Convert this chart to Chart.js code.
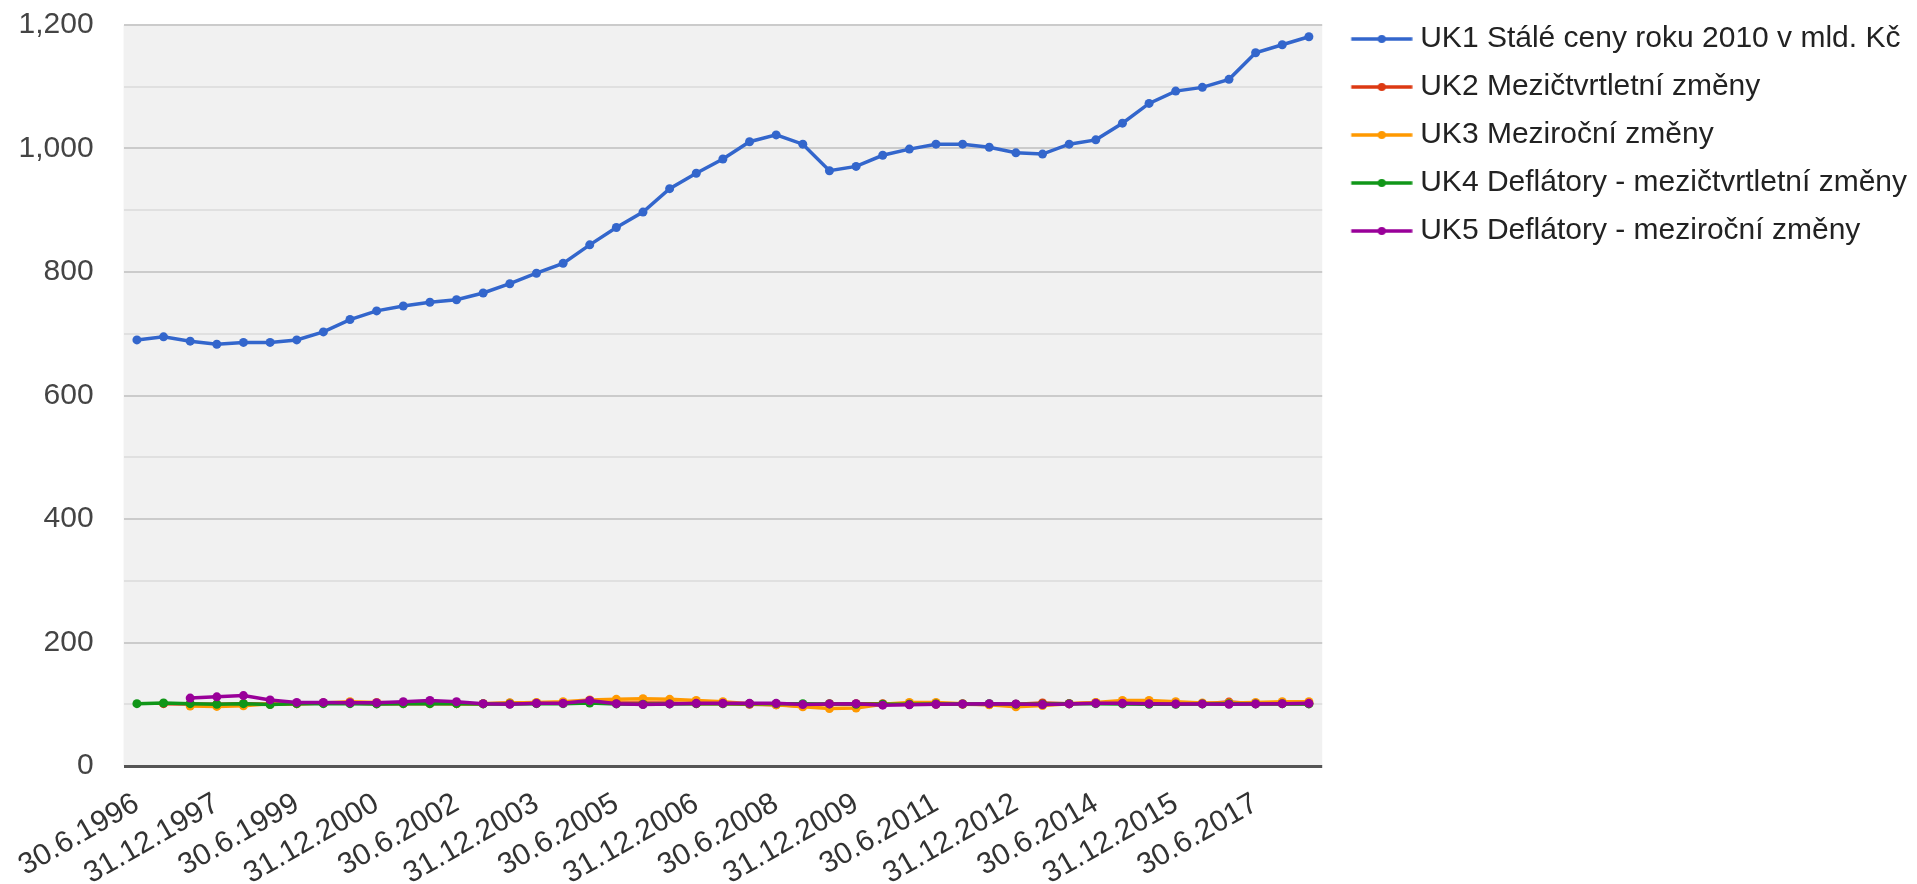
<!DOCTYPE html>
<html>
<head>
<meta charset="utf-8">
<title>UK1 - UK5</title>
<script src="https://cdn.jsdelivr.net/npm/chart.js@4.4.1/dist/chart.umd.min.js"></script>
<style>
  html, body { margin: 0; padding: 0; background: #fff; }
  #chart { display: block; }
</style>
</head>
<body>
<canvas id="chart" width="1917" height="884"></canvas>
<script>
// pololetní období
const periods = [
  '30.6.1996', '31.12.1996', '30.6.1997', '31.12.1997', '30.6.1998', '31.12.1998',
  '30.6.1999', '31.12.1999', '30.6.2000', '31.12.2000', '30.6.2001', '31.12.2001',
  '30.6.2002', '31.12.2002', '30.6.2003', '31.12.2003', '30.6.2004', '31.12.2004',
  '30.6.2005', '31.12.2005', '30.6.2006', '31.12.2006', '30.6.2007', '31.12.2007',
  '30.6.2008', '31.12.2008', '30.6.2009', '31.12.2009', '30.6.2010', '31.12.2010',
  '30.6.2011', '31.12.2011', '30.6.2012', '31.12.2012', '30.6.2013', '31.12.2013',
  '30.6.2014', '31.12.2014', '30.6.2015', '31.12.2015', '30.6.2016', '31.12.2016',
  '30.6.2017', '31.12.2017', '30.6.2018'
];

const uk1 = [690, 695, 688, 683, 686, 686, 690, 703, 723, 737, 745, 751, 755, 766, 781,
  798, 814, 844, 872, 897, 935, 960, 983, 1011, 1022, 1007, 964, 971, 989, 999,
  1007, 1007, 1002, 993, 991, 1007, 1014, 1041, 1073, 1093, 1099, 1112, 1155, 1168, 1181];
const uk2 = [null, 101, 100.5, 100, 101, 100, 101, 102, 102, 101, 101, 101, 101, 101, 102,
  102, 102, 103, 102, 102, 102, 101, 101, 100, 99, 97, 101, 101, 101, 100,
  100, 100, 99.5, 100, 102, 101, 102.5, 102.5, 102, 101, 101, 103.5, 101, 101, 101];
const uk3 = [null, null, 97, 96.5, 97.5, 101, 101, 102, 104, 103, 102, 102, 101, 101, 102,
  103, 104, 107, 108, 109, 108, 106, 104, 101, 99, 96, 93, 94, 100, 103,
  103, 101, 99, 96, 98, 101, 103, 106, 106, 104, 102, 102, 103, 104, 104];
const uk4 = [101, 102, 101, 100, 101, 99.5, 101, 101, 101, 100.5, 101, 101, 101, 100.5, 100.5,
  101, 101, 102, 100.5, 100, 100.5, 101, 101, 101, 101, 101, 100.5, 100, 100, 100,
  100.5, 100.5, 101, 100, 100, 101, 101, 100.5, 100, 100, 100.5, 101, 100.5, 101, 100.5];
const uk5 = [null, null, 110, 112, 114, 107, 103, 103, 102.5, 102.5, 104, 106, 104, 101, 100,
  101.5, 101.5, 106, 101, 99.5, 100.5, 101.5, 101.5, 101.5, 101.5, 99.5, 100.5, 101, 98.5, 99,
  100, 100.5, 101, 100.5, 99.5, 100.5, 101.5, 101.5, 101, 100.5, 100.5, 100, 100.5, 101, 101.5];

const seriesNames = [
  'UK1 Stálé ceny roku 2010 v mld. Kč',
  'UK2 Mezičtvrtletní změny',
  'UK3 Meziroční změny',
  'UK4 Deflátory - mezičtvrtletní změny',
  'UK5 Deflátory - meziroční změny'
];
const seriesData = [uk1, uk2, uk3, uk4, uk5];
const seriesColors = ['#3366cc', '#dc3912', '#ff9900', '#109618', '#990099'];

const FONT = 'Arial, "Liberation Sans", sans-serif';

// značka v legendě: čára s tečkou uprostřed
function legendMark(color) {
  const c = document.createElement('canvas');
  c.width = 80;
  c.height = 12;
  const g = c.getContext('2d');
  g.strokeStyle = color;
  g.lineWidth = 3.5;
  g.beginPath();
  g.moveTo(18.5, 6);
  g.lineTo(79.5, 6);
  g.stroke();
  g.fillStyle = color;
  g.beginPath();
  g.arc(49, 6, 4, 0, Math.PI * 2);
  g.fill();
  return c;
}
const marks = seriesColors.map(legendMark);

const plotBg = {
  id: 'plotBg',
  beforeDraw(chart) {
    const { ctx, chartArea: a } = chart;
    ctx.save();
    ctx.fillStyle = '#f1f1f1';
    ctx.fillRect(a.left, a.top, a.right - a.left, a.bottom - a.top);
    ctx.restore();
  }
};

new Chart(document.getElementById('chart'), {
  type: 'line',
  data: {
    labels: periods,
    datasets: seriesNames.map((name, i) => ({
      label: name,
      data: seriesData[i],
      borderColor: seriesColors[i],
      backgroundColor: seriesColors[i],
      borderWidth: 3.5,
      pointRadius: 4.5,
      pointHoverRadius: 4.5,
      pointBorderWidth: 0,
      tension: 0,
      order: 4 - i
    }))
  },
  options: {
    responsive: false,
    devicePixelRatio: 1,
    animation: false,
    events: [],
    layout: { padding: { top: 6, right: 0, bottom: 0, left: 0 } },
    font: { family: FONT },
    scales: {
      x: {
        offset: true,
        grid: { display: false, drawTicks: false },
        border: { display: false },
        ticks: {
          autoSkip: false,
          minRotation: 30,
          maxRotation: 30,
          padding: 20,
          color: '#333',
          font: { family: FONT, size: 30 },
          callback: (v, i) => (i % 3 === 0 ? periods[i] : '')
        },
        afterFit: s => { s.height = 118; }
      },
      y: {
        min: 0,
        max: 1200,
        ticks: {
          stepSize: 100,
          padding: 30,
          color: '#444',
          font: { family: FONT, size: 30 },
          callback: v => (v % 200 === 0 ? v.toLocaleString('en-US') : '')
        },
        grid: {
          drawTicks: false,
          color: c => (c.tick.value === 0 ? '#555' : c.tick.value % 200 === 0 ? '#cbcbcb' : '#e0e0e0'),
          lineWidth: c => (c.tick.value === 0 ? 3 : 2)
        },
        border: { display: false },
        afterFit: s => {
          s.width = 120;
          s.paddingTop = 0;
          s.paddingBottom = 0;
        }
      }
    },
    plugins: {
      title: { display: true, text: '', padding: { top: 18, bottom: 0 }, font: { size: 1, lineHeight: 1 } },
      tooltip: { enabled: false },
      legend: {
        position: 'right',
        align: 'start',
        maxWidth: 800,
        labels: {
          usePointStyle: true,
          pointStyleWidth: 65,
          padding: 18,
          color: '#222',
          font: { family: FONT, size: 30 },
          sort: (a, b) => a.datasetIndex - b.datasetIndex,
          generateLabels: chart => Chart.defaults.plugins.legend.labels.generateLabels(chart)
            .map(it => Object.assign(it, { pointStyle: marks[it.datasetIndex] }))
        }
      }
    }
  },
  plugins: [plotBg]
});
</script>
</body>
</html>
